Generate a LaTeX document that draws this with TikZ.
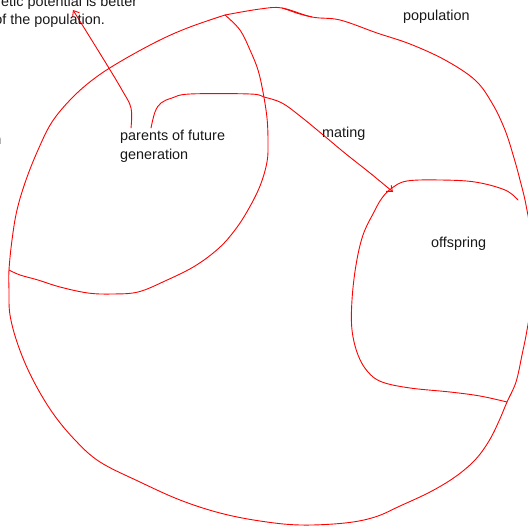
\documentclass[tikz,border=0pt]{standalone}
\usepackage{fontspec}
\setmainfont{Liberation Sans}
\usetikzlibrary{arrows.meta}

\begin{document}
\begin{tikzpicture}[x=1pt,y=-1pt,
  sketch/.style={draw=red, line width=0.9pt, line cap=round, line join=round},
  txt/.style={inner sep=0pt, font=\fontsize{14.4}{18}\selectfont, text=black!90}]
  \useasboundingbox (0,0) rectangle (528,527);
  \clip (0,0) rectangle (528,527);
  %
  \coordinate (top) at (225,15);
  \coordinate (left) at (9,270);
  \coordinate (right) at (507,402);
  \coordinate (mate) at (393,192);
  %
  % outer population circle
  \draw[sketch] plot[smooth, tension=0.6] coordinates {(top) (260,9) (282,8) (312,17) (340,20) (377,33) (410,44)
    (445,60) (475,80) (492,103) (505,130) (514,158) (520,180) (526,205) (531,240) (531,300) (527,330)
    (522,355) (516,382) (right) (499,421) (489,441) (475,460) (455,477) (430,492) (400,506) (375,517)
    (345,523) (300,525) (260,521) (220,513) (180,500) (140,482) (100,462) (75,440) (52,412) (32,378)
    (18,345) (10,315) (9,290) (left) (12,240) (17,210) (26,180) (38,150) (52,122) (72,98) (95,78)
    (123,60) (160,40) (190,27) (top)};
  \draw[sketch] (282,8) .. controls (292,11) and (297,14) .. (312,17);
  %
  % parents region
  \draw[sketch] plot[smooth, tension=0.6] coordinates {(top) (240,30) (250,50) (258,70) (263,92) (267,118)
    (268,142) (267,162) (260,186) (248,210) (235,230) (219,248) (195,266) (165,281) (138,292) (112,294)
    (88,293) (60,287) (38,280) (20,275) (left)};
  %
  % offspring region
  \draw[sketch] plot[smooth, tension=0.6] coordinates {(518,200) (505,190) (475,182) (440,180) (407,181)
    (392,188) (382,198) (374,212) (363,235) (356,265) (352,300) (352,330) (358,355) (368,372) (382,382)
    (410,388) (450,392) (480,396) (right)};
  %
  % mating arrow
  \draw[sketch, -{Straight Barb[length=5pt, width=8pt]}] plot[smooth, tension=0.6] coordinates {(151,128)
    (155,112) (161,103) (172,98) (190,94) (250,94) (264,97) (282,103) (300,116) (322,134) (346,154)
    (370,173) (mate)};
  %
  % pointer to the note
  \draw[sketch, -{Straight Barb[length=5pt, width=8pt]}] plot[smooth, tension=0.6] coordinates {(131,128)
    (131,108) (122,90) (104,60) (73,10)};
  %
  \node[txt, anchor=base west] (note1) at (1,7) {etic potential is better};
  \node[txt, anchor=base east] (note2) at (105,25) {of the population.};
  \node[txt, anchor=base east] (cut) at (1.5,144) {n};
  \node[txt, anchor=base west] (population) at (403,21) {population};
  \node[txt, anchor=base west] (parents) at (120,140) {parents of future};
  \node[txt, anchor=base west] (generation) at (120,159) {generation};
  \node[txt, anchor=base west] (mating) at (322,137) {mating};
  \node[txt, anchor=base west] (offspring) at (431,247) {offspring};
\end{tikzpicture}
\end{document}
